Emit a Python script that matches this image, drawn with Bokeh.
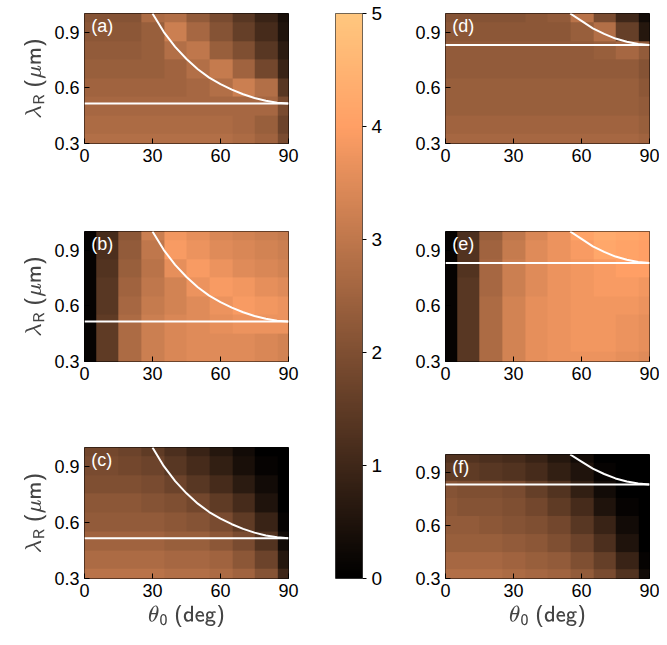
import numpy as np
from bokeh.plotting import figure
from bokeh.layouts import row, column
from bokeh.models import Label, FixedTicker, LinearColorMapper
from bokeh.embed import file_html
from bokeh.resources import INLINE

theta_cols = [0, 10, 20, 30, 40, 50, 60, 70, 80, 90]
lam_rows = [0.3, 0.4, 0.5, 0.6, 0.7, 0.8, 0.9, 1.0]

panel_a = [
    [2.8, 2.8, 2.8, 2.8, 2.8, 2.8, 2.8, 2.7, 2.5, 1.9],
    [2.7, 2.7, 2.7, 2.7, 2.7, 2.7, 2.7, 2.6, 2.4, 1.7],
    [2.6, 2.6, 2.6, 2.6, 2.6, 2.6, 2.6, 2.6, 2.6, 1.9],
    [2.5, 2.5, 2.5, 2.5, 2.5, 2.6, 2.8, 3.2, 2.8, 1.4],
    [2.4, 2.4, 2.4, 2.4, 2.5, 2.8, 3.1, 2.5, 1.8, 0.9],
    [2.3, 2.3, 2.3, 2.4, 2.8, 3.0, 2.4, 2.0, 1.4, 0.7],
    [2.2, 2.2, 2.2, 2.4, 3.2, 2.6, 2.1, 1.6, 1.1, 0.5],
    [2.1, 2.1, 2.1, 2.7, 2.8, 2.3, 1.9, 1.4, 0.9, 0.4]]
panel_b = [
    [0.1, 1.5, 2.7, 3.2, 3.4, 3.5, 3.5, 3.5, 3.4, 3.3],
    [0.1, 1.5, 2.7, 3.2, 3.4, 3.5, 3.5, 3.5, 3.4, 3.3],
    [0.1, 1.5, 2.7, 3.2, 3.4, 3.5, 3.6, 3.7, 3.7, 3.7],
    [0.1, 1.4, 2.6, 3.1, 3.3, 3.5, 3.7, 3.9, 3.8, 3.7],
    [0.1, 1.4, 2.5, 3.0, 3.3, 3.7, 3.9, 3.8, 3.6, 3.5],
    [0.1, 1.3, 2.4, 2.9, 3.6, 3.9, 3.7, 3.5, 3.4, 3.3],
    [0.1, 1.2, 2.3, 3.0, 3.9, 3.7, 3.5, 3.4, 3.3, 3.2],
    [0.1, 1.1, 2.2, 3.2, 3.8, 3.6, 3.4, 3.3, 3.2, 3.1]]
panel_c = [
    [2.9, 2.9, 2.9, 2.9, 2.8, 2.8, 2.7, 2.5, 2.1, 1.0],
    [2.7, 2.7, 2.7, 2.7, 2.6, 2.6, 2.5, 2.2, 1.7, 0.6],
    [2.5, 2.5, 2.5, 2.5, 2.4, 2.4, 2.2, 1.9, 1.3, 0.3],
    [2.3, 2.3, 2.3, 2.3, 2.2, 2.1, 1.9, 1.5, 0.9, 0.1],
    [2.2, 2.2, 2.2, 2.1, 2.0, 1.8, 1.5, 1.1, 0.5, 0.0],
    [2.0, 2.0, 2.0, 1.9, 1.7, 1.4, 1.1, 0.7, 0.3, 0.0],
    [1.9, 1.9, 1.8, 1.7, 1.4, 1.1, 0.8, 0.4, 0.1, 0.0],
    [1.8, 1.8, 1.7, 1.5, 1.2, 0.9, 0.6, 0.3, 0.0, 0.0]]
panel_d = [
    [2.6, 2.6, 2.6, 2.6, 2.6, 2.6, 2.6, 2.6, 2.6, 2.5],
    [2.5, 2.5, 2.5, 2.5, 2.5, 2.5, 2.5, 2.5, 2.5, 2.4],
    [2.4, 2.4, 2.4, 2.4, 2.4, 2.4, 2.4, 2.4, 2.4, 2.3],
    [2.4, 2.4, 2.4, 2.4, 2.4, 2.4, 2.4, 2.4, 2.4, 2.2],
    [2.3, 2.3, 2.3, 2.3, 2.3, 2.3, 2.3, 2.3, 2.3, 2.1],
    [2.3, 2.3, 2.3, 2.3, 2.3, 2.3, 2.3, 2.4, 2.6, 2.3],
    [2.2, 2.2, 2.2, 2.2, 2.2, 2.2, 2.4, 2.8, 1.6, 0.6],
    [2.1, 2.1, 2.1, 2.1, 2.2, 2.3, 2.9, 1.9, 1.0, 0.3]]
panel_e = [
    [0.1, 1.4, 2.7, 3.3, 3.6, 3.7, 3.7, 3.7, 3.6, 3.5],
    [0.1, 1.4, 2.7, 3.3, 3.6, 3.7, 3.8, 3.8, 3.7, 3.6],
    [0.1, 1.4, 2.7, 3.3, 3.6, 3.7, 3.8, 3.8, 3.7, 3.6],
    [0.1, 1.4, 2.7, 3.3, 3.6, 3.7, 3.8, 3.8, 3.8, 3.7],
    [0.1, 1.4, 2.6, 3.2, 3.5, 3.7, 3.8, 3.9, 3.9, 3.8],
    [0.1, 1.3, 2.6, 3.2, 3.5, 3.7, 3.8, 3.9, 4.0, 4.0],
    [0.1, 1.3, 2.5, 3.1, 3.5, 3.7, 3.9, 4.2, 4.1, 4.0],
    [0.1, 1.2, 2.4, 3.0, 3.4, 3.7, 4.1, 4.3, 4.2, 4.1]]
panel_f = [
    [2.8, 2.8, 2.8, 2.7, 2.6, 2.5, 2.3, 1.9, 1.3, 0.3],
    [2.6, 2.6, 2.6, 2.5, 2.4, 2.3, 2.0, 1.6, 0.9, 0.1],
    [2.4, 2.4, 2.4, 2.3, 2.2, 2.0, 1.7, 1.2, 0.5, 0.0],
    [2.3, 2.3, 2.2, 2.1, 2.0, 1.8, 1.4, 0.9, 0.3, 0.0],
    [2.2, 2.1, 2.1, 2.0, 1.8, 1.5, 1.1, 0.5, 0.1, 0.0],
    [2.1, 2.0, 2.0, 1.9, 1.6, 1.3, 0.8, 0.3, 0.0, 0.0],
    [1.5, 1.5, 1.4, 1.3, 1.1, 0.8, 0.5, 0.1, 0.0, 0.0],
    [1.3, 1.3, 1.2, 1.1, 0.9, 0.6, 0.3, 0.0, 0.0, 0.0]]

curve_left_theta = [30, 35, 40, 45, 50, 55, 60, 65, 70, 75, 80, 85, 90]
curve_left_lam = [1.0, 0.90, 0.82, 0.755, 0.70, 0.655, 0.62, 0.59, 0.565, 0.545, 0.53, 0.52, 0.515]
hline_left = 0.515
curve_right_theta = [55, 60, 65, 70, 75, 80, 85, 90]
curve_right_lam = [1.0, 0.96, 0.92, 0.89, 0.865, 0.848, 0.836, 0.83]
hline_right = 0.83

cbar_values = [i / 100 for i in range(0, 501)]
cbar_ticks = [0, 1, 2, 3, 4, 5]

palette = []
for i in range(256):
    x = i / 255
    r = min(1.0, 1.25 * x); g = 0.7812 * x; b = 0.4975 * x
    palette.append("#%02x%02x%02x" % (int(r * 255), int(g * 255), int(b * 255)))
mapper = LinearColorMapper(palette=palette, low=0, high=5)

FONT = "Liberation Sans"

def style(p):
    for ax in (p.xaxis, p.yaxis):
        ax.major_label_text_font = FONT
        ax.major_label_text_font_size = "18px"
        ax.major_label_text_color = "black"
        ax.major_tick_in = 5
        ax.major_tick_out = 0
        ax.minor_tick_in = 0
        ax.minor_tick_out = 0
        ax.axis_line_color = None
        ax.axis_label_text_font = FONT
        ax.axis_label_text_font_size = "18px"
        ax.axis_label_text_font_style = "normal"
    p.xgrid.visible = False
    p.ygrid.visible = False
    p.outline_line_color = "black"
    p.outline_line_width = 1
    p.background_fill_color = None

def panel(vals, ct, cl, hl, lab, fh, bl, bt, bb, br, xlabel, ylabel):
    p = figure(output_backend="svg", toolbar_location=None,
               frame_width=204, frame_height=fh,
               min_border_left=bl, min_border_right=br,
               min_border_top=bt, min_border_bottom=bb,
               x_range=(0, 90), y_range=(0.3, 1.0))
    dth = theta_cols[1] - theta_cols[0]
    dl = lam_rows[1] - lam_rows[0]
    p.image(image=[np.array(vals)], x=theta_cols[0] - dth / 2, y=lam_rows[0] - dl / 2,
            dw=dth * len(theta_cols), dh=dl * len(lam_rows), color_mapper=mapper)
    p.line(ct, cl, line_color="white", line_width=2)
    p.line([0, 90], [hl, hl], line_color="white", line_width=2)
    p.add_layout(Label(x=3, y=0.985, text=lab, text_color="white", text_font=FONT,
                       text_font_size="18px", text_baseline="top"))
    p.xaxis.ticker = FixedTicker(ticks=[0, 30, 60, 90])
    p.yaxis.ticker = FixedTicker(ticks=[0.3, 0.6, 0.9])
    style(p)
    if xlabel:
        p.xaxis.axis_label = r"$$\mathsf{\theta_0\ (deg)}$$"
    if ylabel:
        p.yaxis.axis_label = r"$$\mathsf{\lambda_R\ (\mu m)}$$"
    return p

pa = panel(panel_a, curve_left_theta, curve_left_lam, hline_left, "(a)", 130, 84, 13, 40, 19, False, True)
pb = panel(panel_b, curve_left_theta, curve_left_lam, hline_left, "(b)", 130, 84, 48, 40, 19, False, True)
pc = panel(panel_c, curve_left_theta, curve_left_lam, hline_left, "(c)", 131, 84, 46, 43, 19, True, True)
pd = panel(panel_d, curve_right_theta, curve_right_lam, hline_right, "(d)", 130, 43, 13, 40, 10, False, False)
pe = panel(panel_e, curve_right_theta, curve_right_lam, hline_right, "(e)", 130, 43, 48, 40, 10, False, False)
pf = panel(panel_f, curve_right_theta, curve_right_lam, hline_right, "(f)", 124, 43, 53, 43, 10, True, False)

cb = figure(output_backend="svg", toolbar_location=None, frame_width=27, frame_height=565,
            min_border_left=28, min_border_right=40, min_border_top=13, min_border_bottom=43,
            x_range=(0, 1), y_range=(0, 5), y_axis_location="right")
cb.image(image=[np.array(cbar_values).reshape(-1, 1)], x=0, y=0, dw=1, dh=5, color_mapper=mapper)
cb.yaxis.ticker = FixedTicker(ticks=cbar_ticks)
cb.xaxis.visible = False
style(cb)
cb.yaxis.major_label_text_font_size = "19px"
cb.yaxis.major_tick_in = 0
cb.yaxis.major_tick_out = 4
cb.outline_line_color = "#444444"

layout = row(column(pa, pb, pc), cb, column(pd, pe, pf), spacing=0)
open("out.html", "w").write(file_html(layout, INLINE))
